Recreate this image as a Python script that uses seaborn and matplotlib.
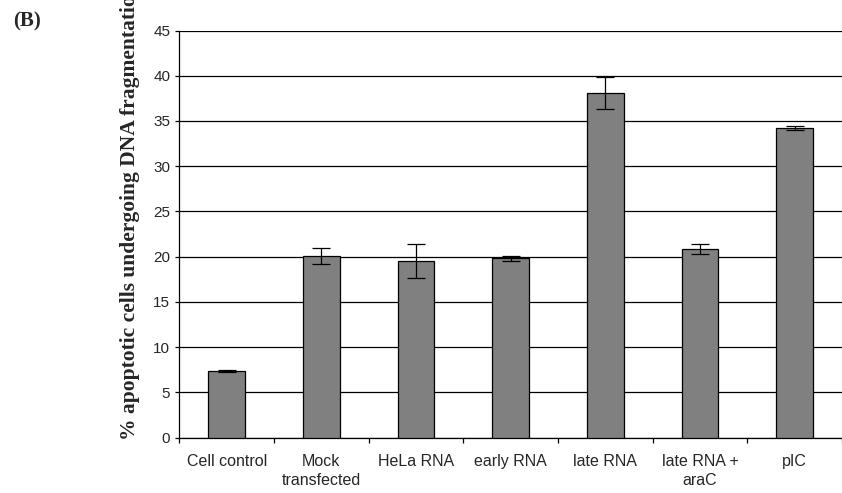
import numpy as np
import pandas as pd
import matplotlib
matplotlib.use("Agg")
import matplotlib.pyplot as plt
import seaborn as sns

# data
groups = ["Cell control", "Mock\ntransfected", "HeLa RNA", "early RNA",
          "late RNA", "late RNA +\naraC", "pIC"]
apoptotic_pct = [7.35, 20.1, 19.5, 19.8, 38.1, 20.8, 34.2]
err_pct = [0.1, 0.9, 1.85, 0.3, 1.8, 0.55, 0.2]

df = pd.DataFrame({"group": groups, "pct": apoptotic_pct})

sns.set_style("white")
plt.rcParams["font.family"] = ["Liberation Sans", "DejaVu Sans"]

fig = plt.figure(figsize=(8.42, 4.93), dpi=100)
ax = fig.add_axes([179.3 / 842, 1 - 437.5 / 493, 1 - 179.3 / 842, (437.5 - 30.5) / 493])

sns.barplot(data=df, x="group", y="pct", color="#808080", saturation=1,
            width=0.39, edgecolor="black", linewidth=0.9, errorbar=None, ax=ax,
            zorder=3)
ax.errorbar(np.arange(len(groups)), apoptotic_pct, yerr=err_pct, fmt="none",
            ecolor="black", elinewidth=0.9, capsize=6.5, capthick=0.9, zorder=4)

# axes, grid, ticks
ax.set_ylim(0, 45)
ax.set_yticks(np.arange(0, 46, 5))
ax.set_xlim(-0.5, 6.374)
ax.grid(axis="y", color="black", linewidth=0.9, zorder=0)
ax.set_axisbelow(True)
for s in ["top", "right"]:
    ax.spines[s].set_visible(False)
for s in ["left", "bottom"]:
    ax.spines[s].set_color("black")
    ax.spines[s].set_linewidth(0.9)

ax.set_xticks(np.arange(len(groups)))
ax.set_xticklabels(groups, fontsize=11.5, linespacing=1.3)
ax.set_xticks(np.arange(-0.5, len(groups), 1), minor=True)
ax.tick_params(axis="x", which="major", length=0, pad=12)
ax.tick_params(axis="x", which="minor", length=3.5, width=0.9, color="black",
               direction="out", bottom=True)
ax.tick_params(axis="y", length=3, width=0.9, color="black", direction="out",
               left=True, labelsize=11, pad=3.5)
ax.set_xlabel("")
ax.set_ylabel("")

# y label (runs past the top edge like the original)
fig.text(130 / 842, 1 - 440 / 493, "% apoptotic cells undergoing DNA fragmentation",
         rotation=90, ha="center", va="bottom", fontsize=15.5, fontweight="bold",
         family=["Liberation Serif", "DejaVu Serif"])
fig.text(13 / 842, 1 - 11 / 493, "(B)", ha="left", va="top", fontsize=15,
         fontweight="bold", family=["Liberation Serif", "DejaVu Serif"])

fig.savefig("out.png", dpi=100)
